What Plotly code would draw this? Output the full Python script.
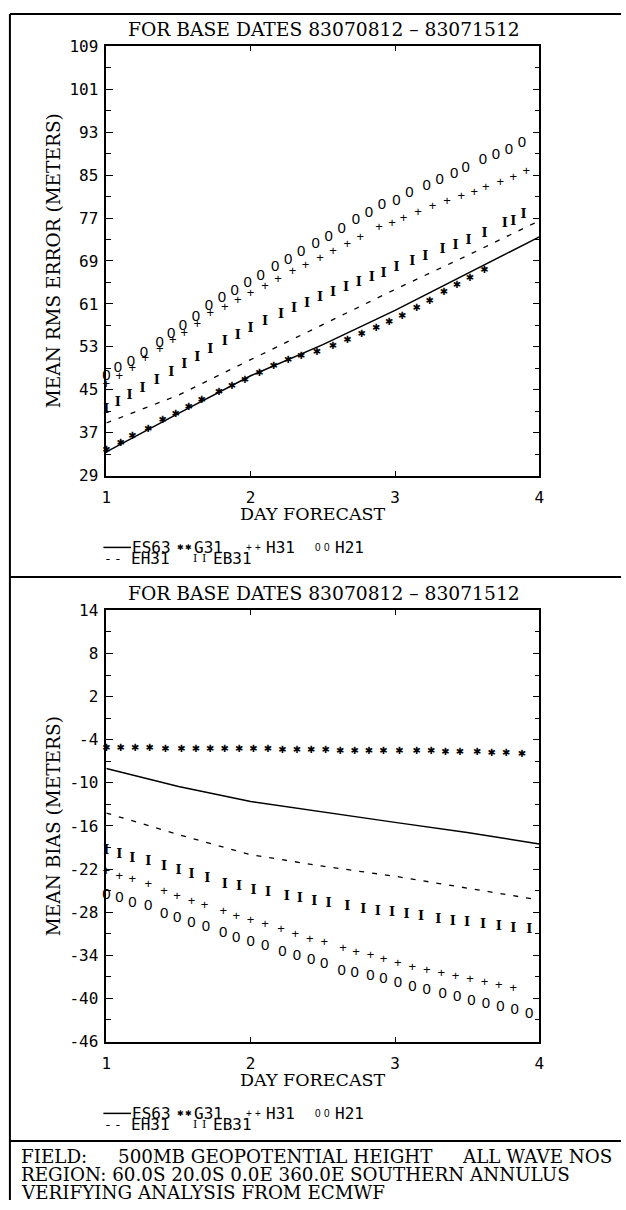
import plotly.graph_objects as go

# ---------------- data ----------------
# forecast day for the continuous curves
days_line = [1.0, 1.5, 2.0, 2.5, 3.0, 3.5, 4.0]

# --- mean RMS error (meters) ---
rms_es63 = [33.4, 40.6, 47.6, 53.4, 59.8, 66.6, 73.5]
rms_eh31 = [38.8, 44.0, 50.6, 57.2, 63.7, 70.0, 76.5]

rms_g31_day = [1.00, 1.10, 1.18, 1.29, 1.39, 1.48, 1.57, 1.66, 1.78, 1.87, 1.96, 2.06, 2.16, 2.26,
               2.35, 2.46, 2.57, 2.67, 2.77, 2.87, 2.96, 3.05, 3.15, 3.24, 3.34, 3.43, 3.52, 3.62]
rms_g31 = [33.7, 34.9, 36.2, 37.6, 39.2, 40.4, 41.6, 42.9, 44.4, 45.6, 46.7, 48.0, 49.3, 50.4,
           51.1, 51.9, 53.1, 54.2, 55.3, 56.4, 57.5, 58.7, 60.1, 61.5, 63.1, 64.4, 65.8, 67.2]

rms_h31_day = [1.00, 1.09, 1.18, 1.27, 1.37, 1.46, 1.54, 1.63, 1.72, 1.82, 1.91, 2.00, 2.10, 2.19, 2.29, 2.38,
               2.48, 2.57, 2.67, 2.76, 2.89, 2.98, 3.06, 3.16, 3.26, 3.36, 3.46, 3.55, 3.63, 3.73, 3.82, 3.91]
rms_h31 = [46.0, 47.5, 49.0, 50.8, 52.5, 54.1, 55.5, 57.1, 59.1, 60.3, 61.6, 62.8, 64.2, 65.5, 66.9, 68.1,
           69.5, 70.8, 72.1, 73.4, 75.1, 75.9, 76.8, 77.9, 79.1, 80.0, 80.9, 81.8, 82.6, 83.6, 84.6, 85.6]

rms_h21_day = [1.00, 1.08, 1.17, 1.26, 1.37, 1.45, 1.53, 1.62, 1.71, 1.80, 1.89, 1.98, 2.07, 2.17, 2.26, 2.35,
               2.45, 2.54, 2.63, 2.73, 2.82, 2.91, 3.01, 3.10, 3.22, 3.31, 3.41, 3.49, 3.61, 3.70, 3.79, 3.88]
rms_h21 = [47.5, 49.0, 50.2, 51.8, 53.7, 55.3, 56.8, 58.5, 60.6, 62.0, 63.4, 64.8, 66.2, 67.8, 69.2, 70.6,
           72.1, 73.5, 74.9, 76.5, 77.9, 79.3, 80.2, 81.6, 83.0, 84.0, 85.1, 86.2, 87.8, 88.7, 89.7, 91.0]

rms_eb31_day = [1.00, 1.08, 1.16, 1.25, 1.35, 1.45, 1.54, 1.63, 1.72, 1.82, 1.91, 2.00, 2.10, 2.21, 2.30, 2.39,
                2.48, 2.57, 2.66, 2.75, 2.84, 2.92, 3.01, 3.12, 3.21, 3.33, 3.42, 3.51, 3.62, 3.76, 3.82, 3.89]
rms_eb31 = [41.3, 42.6, 43.8, 45.2, 46.7, 48.2, 49.6, 51.0, 52.4, 53.9, 55.1, 56.4, 57.7, 59.0, 60.1, 61.1,
            62.1, 63.1, 64.0, 65.0, 65.9, 66.7, 67.7, 68.9, 69.8, 71.0, 71.9, 72.8, 74.1, 76.0, 76.4, 77.6]

# --- mean bias (meters) ---
bias_es63 = [-8.0, -10.5, -12.6, -14.1, -15.5, -16.9, -18.5]
bias_eh31 = [-14.2, -17.2, -20.0, -21.6, -23.0, -24.6, -26.3]

bias_g31_day = [1.00, 1.10, 1.20, 1.30, 1.41, 1.52, 1.62, 1.72, 1.82, 1.92, 2.02, 2.12, 2.22, 2.32, 2.42,
                2.52, 2.62, 2.72, 2.82, 2.92, 3.03, 3.15, 3.25, 3.35, 3.45, 3.57, 3.67, 3.77, 3.88]
bias_g31 = [-5.2, -5.2, -5.2, -5.2, -5.3, -5.3, -5.3, -5.3, -5.4, -5.4, -5.4, -5.4, -5.5, -5.5, -5.5,
            -5.5, -5.6, -5.6, -5.6, -5.6, -5.7, -5.7, -5.7, -5.8, -5.8, -5.8, -5.9, -5.9, -6.0]

bias_eb31_day = [1.00, 1.09, 1.18, 1.29, 1.40, 1.50, 1.59, 1.70, 1.82, 1.92, 2.02, 2.12, 2.25, 2.34, 2.44,
                 2.54, 2.67, 2.78, 2.88, 2.98, 3.08, 3.18, 3.30, 3.40, 3.50, 3.61, 3.72, 3.82, 3.93]
bias_eb31 = [-19.4, -20.0, -20.6, -21.0, -21.7, -22.3, -22.8, -23.4, -24.2, -24.5, -25.0, -25.3, -25.9, -26.2, -26.6,
             -26.8, -27.3, -27.6, -27.9, -28.1, -28.4, -28.7, -29.0, -29.3, -29.5, -29.8, -30.0, -30.3, -30.5]

bias_h31_day = [1.00, 1.09, 1.18, 1.29, 1.40, 1.49, 1.59, 1.68, 1.81, 1.90, 2.00, 2.10, 2.21, 2.31, 2.41,
                2.51, 2.64, 2.73, 2.83, 2.92, 3.02, 3.12, 3.22, 3.32, 3.42, 3.52, 3.62, 3.72, 3.82]
bias_h31 = [-22.4, -23.1, -23.5, -24.2, -25.2, -25.8, -26.5, -27.1, -28.0, -28.6, -29.2, -29.8, -30.5, -31.1, -31.8,
            -32.2, -33.1, -33.6, -34.1, -34.6, -35.2, -35.7, -36.1, -36.6, -37.0, -37.4, -37.8, -38.2, -38.6]

bias_h21_day = [1.00, 1.09, 1.18, 1.29, 1.40, 1.49, 1.59, 1.69, 1.81, 1.90, 2.00, 2.10, 2.22, 2.32, 2.42,
                2.51, 2.63, 2.72, 2.83, 2.92, 3.02, 3.12, 3.22, 3.33, 3.43, 3.53, 3.63, 3.73, 3.83, 3.93]
bias_h21 = [-25.6, -26.0, -26.7, -27.2, -28.3, -28.8, -29.5, -30.1, -31.0, -31.6, -32.2, -32.7, -33.6, -34.2, -34.7,
            -35.2, -36.2, -36.5, -36.9, -37.4, -37.9, -38.5, -38.9, -39.4, -39.9, -40.4, -40.8, -41.3, -41.7, -42.2]

# tick labels
x_ticks = [1, 2, 3, 4]
rms_ticks = [29, 37, 45, 53, 61, 69, 77, 85, 93, 101, 109]
bias_ticks = [-46, -40, -34, -28, -22, -16, -10, -4, 2, 8, 14]

title_text = "FOR BASE DATES 83070812 \u2013 83071512"
footer_lines = [
    [("FIELD:", 14), ("500MB GEOPOTENTIAL HEIGHT", 113), ("ALL WAVE NOS", 462)],
    [("REGION: 60.0S 20.0S 0.0E 360.0E SOUTHERN ANNULUS", 14)],
    [("VERIFYING ANALYSIS FROM ECMWF", 14)],
]

# ---------------- layout helpers ----------------
W, H = 626, 1210
SERIF = "DejaVu Serif"
MONO = "DejaVu Sans Mono"


def px(x):
    return x / W


def py(y):
    return 1 - y / H


# plot areas in pixels
X0, X1 = 103, 543
TOP_Y0, TOP_Y1 = 38, 474
BOT_Y0, BOT_Y1 = 611, 1049

fig = go.Figure()


def add_panel(xa, ya, es63, eh31, g31, h31, h21, eb31):
    kw = dict(xaxis=xa, yaxis=ya, showlegend=False, cliponaxis=False, hoverinfo="skip")
    fig.add_trace(go.Scatter(x=days_line, y=es63, mode="lines",
                             line=dict(color="black", width=1.5), **kw))
    fig.add_trace(go.Scatter(x=days_line, y=eh31, mode="lines",
                             line=dict(color="black", width=1.3, dash="5px,8px"), **kw))
    fig.add_trace(go.Scatter(x=g31[0], y=g31[1], mode="text", text=["\u2731"] * len(g31[0]),
                             textfont=dict(family="DejaVu Sans", size=10, color="black"), **kw))
    fig.add_trace(go.Scatter(x=h31[0], y=h31[1], mode="text", text=["+"] * len(h31[0]),
                             textfont=dict(family="Liberation Sans", size=13, color="black"), **kw))
    fig.add_trace(go.Scatter(x=h21[0], y=h21[1], mode="text", text=["0"] * len(h21[0]),
                             textfont=dict(family="Liberation Sans", size=15, color="black"), **kw))
    fig.add_trace(go.Scatter(x=eb31[0], y=eb31[1], mode="text", text=["I"] * len(eb31[0]),
                             textfont=dict(family=SERIF, size=13, color="black", weight="bold"), **kw))


add_panel("x", "y", rms_es63, rms_eh31, (rms_g31_day, rms_g31), (rms_h31_day, rms_h31),
          (rms_h21_day, rms_h21), (rms_eb31_day, rms_eb31))
add_panel("x2", "y2", bias_es63, bias_eh31, (bias_g31_day, bias_g31), (bias_h31_day, bias_h31),
          (bias_h21_day, bias_h21), (bias_eb31_day, bias_eb31))

xcommon = dict(range=[1, 4], tickvals=x_ticks, ticktext=[str(v) for v in x_ticks],
               ticks="inside", ticklen=5, tickwidth=1.2, tickcolor="black",
               showline=True, linecolor="black", linewidth=1.6, mirror="ticks",
               showgrid=False, zeroline=False, ticklabelstandoff=6,
               tickfont=dict(family=MONO, size=16, color="black"),
               domain=[px(X0), px(X1)])


def ycommon(rng, ticks, step):
    minor_vals = [t + step / 2 for t in ticks[:-1]]
    return dict(range=rng, tickvals=ticks, ticktext=[str(v) for v in ticks],
                ticks="inside", ticklen=7, tickwidth=1.2, tickcolor="black",
                minor=dict(tickvals=minor_vals, ticks="inside", ticklen=5, tickwidth=1.2, tickcolor="black"),
                showline=True, linecolor="black", linewidth=1.6, mirror="ticks",
                showgrid=False, zeroline=False, ticklabelstandoff=3,
                tickfont=dict(family=MONO, size=16, color="black"))


fig.update_layout(
    width=W, height=H,
    margin=dict(l=0, r=0, t=0, b=0),
    paper_bgcolor="white", plot_bgcolor="white",
    xaxis=dict(**xcommon, anchor="y"),
    yaxis=dict(**ycommon([29, 109], rms_ticks, 8), anchor="x", domain=[py(TOP_Y1), py(TOP_Y0)]),
    xaxis2=dict(**xcommon, anchor="y2"),
    yaxis2=dict(**ycommon([-46, 14], bias_ticks, 6), anchor="x2", domain=[py(BOT_Y1), py(BOT_Y0)]),
)

ann = []
shapes = []


def text(x, y, s, size, family=SERIF, xanchor="center", angle=0):
    ann.append(dict(x=px(x), y=py(y), xref="paper", yref="paper", text=s, showarrow=False,
                    xanchor=xanchor, yanchor="middle", textangle=angle,
                    font=dict(family=family, size=size, color="black")))


# panel titles and axis titles
for top, bottom, ytitle in [(TOP_Y0, TOP_Y1, "MEAN RMS ERROR (METERS)"),
                            (BOT_Y0, BOT_Y1, "MEAN BIAS (METERS)")]:
    text(324, top - 17, title_text, 18.7)
    text(313, bottom + 39, "DAY FORECAST", 17.5)
    text(50, (top + bottom) / 2, ytitle, 18.5, angle=-90)

    # key below each panel
    r1, r2 = bottom + 73, bottom + 84
    shapes.append(dict(type="line", xref="paper", yref="paper", x0=px(100), x1=px(128),
                       y0=py(r1), y1=py(r1), line=dict(color="black", width=1.5)))
    text(127, r1, "ES63", 16, MONO, "left")
    text(178, r1, "\u2731", 8, "DejaVu Sans")
    text(186, r1, "\u2731", 8, "DejaVu Sans")
    text(190, r1, "G31", 16, MONO, "left")
    text(248, r1, "+", 10, "Liberation Sans")
    text(257, r1, "+", 10, "Liberation Sans")
    text(263, r1, "H31", 16, MONO, "left")
    text(318, r1, "0", 10, "Liberation Sans")
    text(327, r1, "0", 10, "Liberation Sans")
    text(333, r1, "H21", 16, MONO, "left")
    text(105, r2, "-", 13, MONO)
    text(115, r2, "-", 13, MONO)
    text(126, r2, "EH31", 16, MONO, "left")
    text(193, r2, "I", 11, SERIF)
    text(202, r2, "I", 11, SERIF)
    text(209, r2, "EB31", 16, MONO, "left")

# footer
for i, line in enumerate(footer_lines):
    for s, x in line:
        text(x, 1166 + 18 * i, s, 18.3, SERIF, "left")

# page frame
for yline in (5, 577, 1150):
    shapes.append(dict(type="line", xref="paper", yref="paper", x0=px(5), x1=1,
                       y0=py(yline), y1=py(yline), line=dict(color="black", width=2)))
shapes.append(dict(type="line", xref="paper", yref="paper", x0=px(5), x1=px(5),
                   y0=py(5), y1=0, line=dict(color="black", width=2)))

fig.update_layout(annotations=ann, shapes=shapes)
fig.write_html("out.html")
